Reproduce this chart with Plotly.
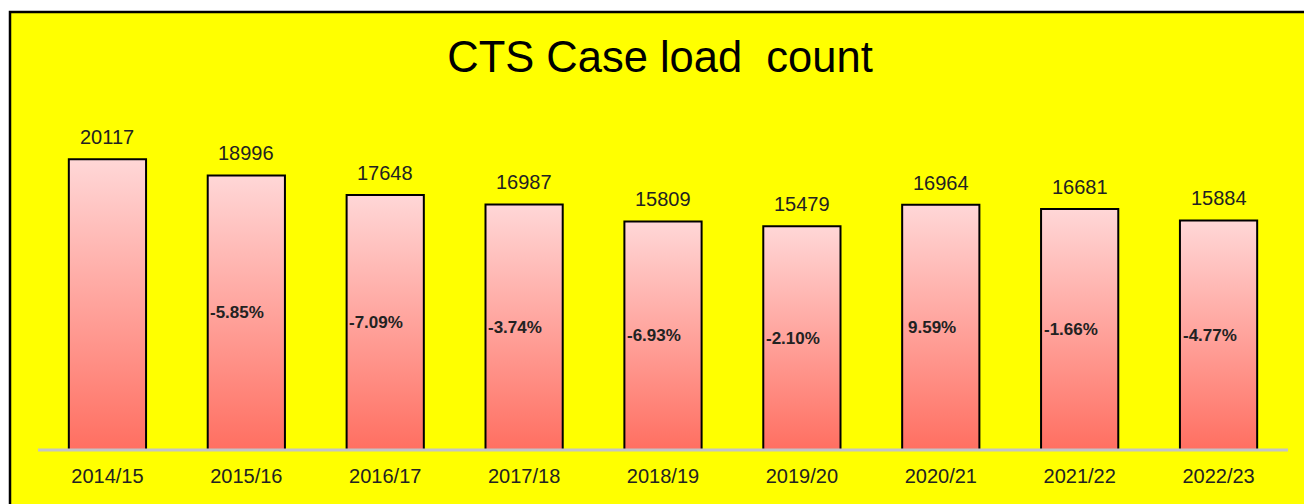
import plotly.graph_objects as go

categories = ["2014/15", "2015/16", "2016/17", "2017/18", "2018/19",
              "2019/20", "2020/21", "2021/22", "2022/23"]
counts = [20117, 18996, 17648, 16987, 15809, 15479, 16964, 16681, 15884]
pct_labels = ["", "-5.85%", "-7.09%", "-3.74%", "-6.93%", "-2.10%", "9.59%", "-1.66%", "-4.77%"]

# page body adds an 8px offset; positions below are in figure pixels
OFF = 8
W, H = 1312 + OFF, 504 + OFF
ML, MT = 38 - OFF, 132 - OFF
PW, PH = 1250, 318
MR = W - ML - PW
MB = H - MT - PH
YMAX = 22000
HALF = 0.278

fig = go.Figure()
for i, v in enumerate(counts):
    xs = [i - HALF, i - HALF, i + HALF, i + HALF, i - HALF]
    ys = [0, v, v, 0, 0]
    fig.add_trace(go.Scatter(
        x=xs, y=ys, mode="lines", fill="toself",
        line=dict(color="black", width=2),
        fillgradient=dict(type="vertical", start=0, stop=v,
                          colorscale=[[0, "#FF6F61"], [1, "#FFD7D7"]]),
        hoverinfo="skip", showlegend=False,
    ))
    fig.add_annotation(x=i, y=v, text=str(v), showarrow=False,
                       yanchor="bottom", yshift=9,
                       font=dict(family="Liberation Sans", size=20, color="#222"))
    if pct_labels[i]:
        fig.add_annotation(x=i, y=v / 2, text="<b>" + pct_labels[i] + "</b>",
                           showarrow=False, xanchor="center", xshift=-9,
                           font=dict(family="Liberation Sans", size=17, color="#222"))

def px_x(p):
    return (p - OFF - ML) / PW
def px_y(p):
    return (MT + PH - (p - OFF)) / PH

# outer yellow box
fig.add_shape(type="rect", xref="paper", yref="paper",
              x0=px_x(10), x1=px_x(1340), y0=px_y(540), y1=px_y(12),
              fillcolor="#FFFF00", line=dict(color="black", width=2.5), layer="below")
# baseline
fig.add_shape(type="line", xref="paper", yref="paper", x0=0, x1=1, y0=0, y1=0,
              line=dict(color="#C4C4C4", width=3), layer="above")

fig.update_layout(
    width=W, height=H,
    margin=dict(l=ML, r=MR, t=MT, b=MB),
    paper_bgcolor="white", plot_bgcolor="rgba(0,0,0,0)",
    title=dict(text="CTS Case load  count", x=(660 - OFF) / W, xref="container", xanchor="center",
               y=1 - (57 - OFF) / H, yref="container", yanchor="middle",
               font=dict(family="Liberation Sans", size=43.5, color="black")),
    xaxis=dict(range=[-0.5, 8.5], tickmode="array", tickvals=list(range(len(categories))),
               ticktext=categories, showgrid=False, zeroline=False, showline=False,
               ticks="", ticklabelstandoff=12,
               tickfont=dict(family="Liberation Sans", size=20, color="#222"), fixedrange=True),
    yaxis=dict(range=[0, YMAX], visible=False, fixedrange=True),
)

fig.write_html("out.html")
